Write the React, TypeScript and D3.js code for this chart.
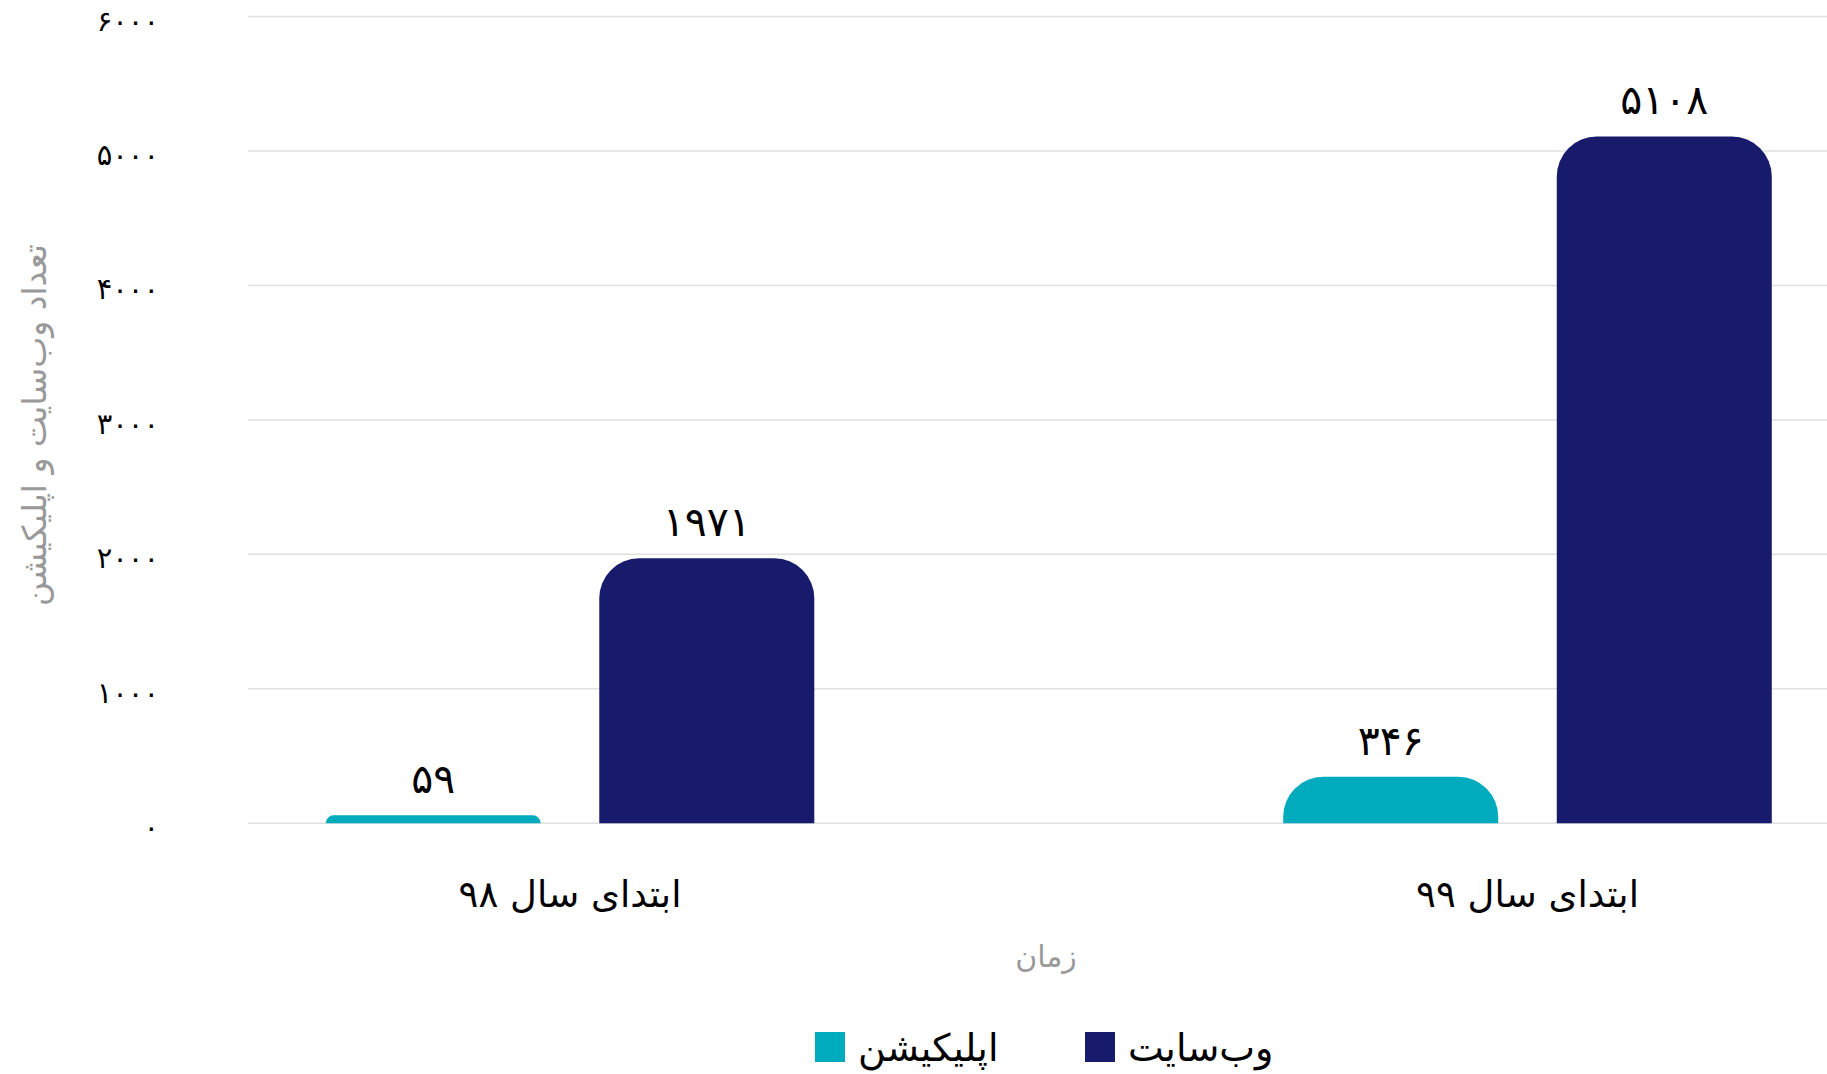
import React from "react";
import * as d3 from "d3";

const categories = ["ابتدای سال ۹۸", "ابتدای سال ۹۹"];
const seriesNames = ["اپلیکیشن", "وب‌سایت"];
const appValues = [59, 346];
const webValues = [1971, 5108];
const yTicks = [0, 1000, 2000, 3000, 4000, 5000, 6000];
const colors = ["#00abbd", "#181b6b"];
const yTitle = "تعداد وب‌سایت و اپلیکیشن";
const xTitle = "زمان";

const W = 1827;
const H = 1074;
const FONT = "'DejaVu Sans', sans-serif";

const toFa = (n: number) =>
  String(n).replace(/\d/g, (d) => "۰۱۲۳۴۵۶۷۸۹"[+d]);

function topRoundedRect(x: number, y: number, w: number, h: number, r: number) {
  const rr = Math.max(0, Math.min(r, h, w / 2));
  const p = d3.path();
  p.moveTo(x, y + h);
  p.lineTo(x, y + rr);
  p.arcTo(x, y, x + rr, y, rr);
  p.lineTo(x + w - rr, y);
  p.arcTo(x + w, y, x + w, y + rr, rr);
  p.lineTo(x + w, y + h);
  p.closePath();
  return p.toString();
}

export default function App() {
  const plotLeft = 248;
  const plotRight = W;
  const y = d3.scaleLinear().domain([0, 6000]).range([823.3, 16.5]);
  const x = d3.scalePoint<string>().domain(categories).range([570, 1527.5]);
  const inner = d3
    .scaleBand<string>()
    .domain(seriesNames)
    .range([-244.3, 244.3])
    .paddingInner(0.214)
    .paddingOuter(0);
  const seriesValues = [appValues, webValues];

  return (
    <div style={{ position: "fixed", left: 0, top: 0 }}>
      <svg width={W} height={H} style={{ display: "block", background: "#fff" }}>
        {yTicks.map((t) => (
          <line
            key={"g" + t}
            x1={plotLeft}
            x2={plotRight}
            y1={y(t)}
            y2={y(t)}
            stroke="#e0e0e0"
            strokeWidth={1.5}
          />
        ))}
        {yTicks.map((t) => (
          <text
            key={"yt" + t}
            x={159}
            y={y(t) + 14}
            textAnchor="end"
            fontFamily={FONT}
            fontSize={29}
            fill="#000"
          >
            {toFa(t)}
          </text>
        ))}
        {categories.map((c, ci) =>
          seriesNames.map((s, si) => {
            const v = seriesValues[si][ci];
            const bx = (x(c) as number) + (inner(s) as number);
            const bw = inner.bandwidth();
            const by = y(v);
            const bh = y(0) - y(v);
            return (
              <g key={c + s}>
                <path d={topRoundedRect(bx, by, bw, bh, 40)} fill={colors[si]} />
                <text
                  x={bx + bw / 2}
                  y={by - 22}
                  textAnchor="middle"
                  fontFamily={FONT}
                  fontSize={41}
                  fill="#000"
                >
                  {toFa(v)}
                </text>
              </g>
            );
          })
        )}
        {categories.map((c) => (
          <text
            key={"xl" + c}
            x={x(c) as number}
            y={907}
            textAnchor="middle"
            fontFamily={FONT}
            fontSize={37}
            fill="#000"
            direction="rtl"
          >
            {c}
          </text>
        ))}
        <text
          x={1046}
          y={967}
          textAnchor="middle"
          fontFamily={FONT}
          fontSize={30}
          fill="#999"
          direction="rtl"
        >
          {xTitle}
        </text>
        <text
          transform={`translate(46,425) rotate(-90)`}
          textAnchor="middle"
          fontFamily={FONT}
          fontSize={33}
          fill="#999"
          direction="rtl"
        >
          {yTitle}
        </text>
        {[1, 0].map((si, i) => {
          const lx = [1085, 815][i];
          return (
            <g key={"lg" + si}>
              <rect x={lx} y={1032} width={30} height={30} fill={colors[si]} />
              <text
                x={lx + 43}
                y={1061}
                textAnchor="start"
                fontFamily={FONT}
                fontSize={38}
                fill="#000"
              >
                {seriesNames[si]}
              </text>
            </g>
          );
        })}
      </svg>
    </div>
  );
}
